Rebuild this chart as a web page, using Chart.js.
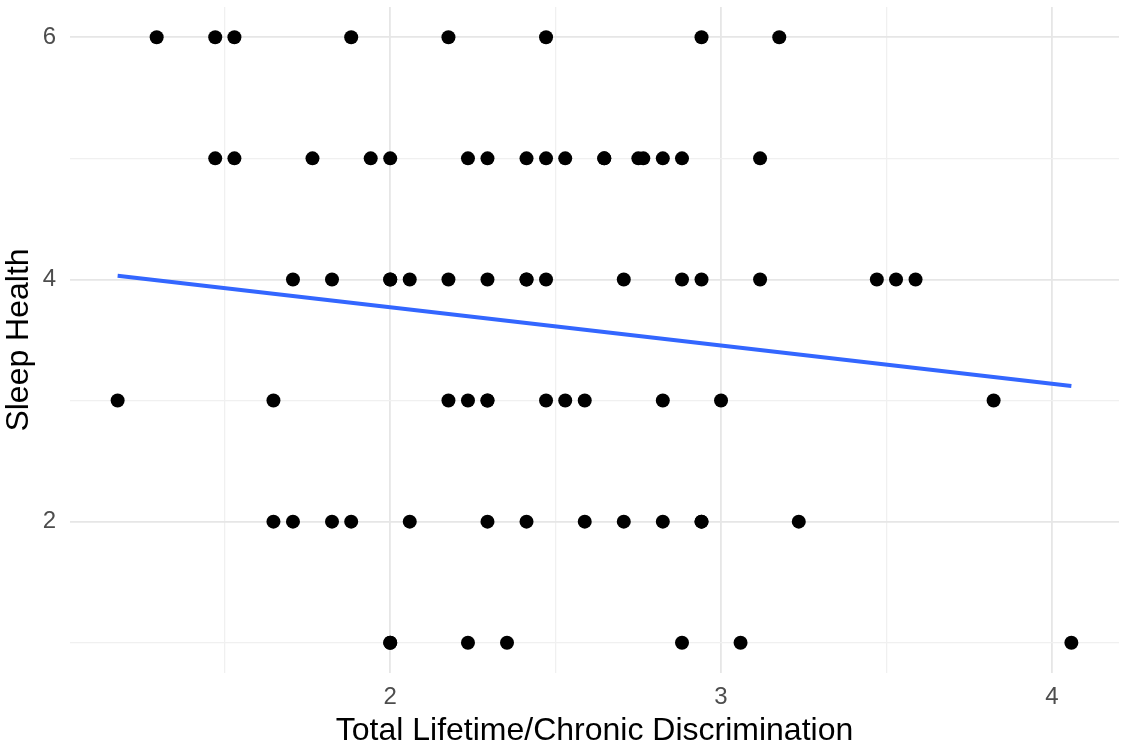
<!DOCTYPE html>
<html lang="en">
<head>
<meta charset="UTF-8">
<title>Sleep Health vs Discrimination</title>
<script src="https://cdn.jsdelivr.net/npm/chart.js"></script>
<style>
    html, body { margin: 0; padding: 0; background: #ffffff; }
    .chart-wrapper { position: relative; width: 1126px; height: 750px; }
</style>
</head>
<body>
<div class="chart-wrapper">
    <canvas id="scatterChart"></canvas>
</div>
<script>
    // Total Lifetime/Chronic Discrimination score, grouped by Sleep Health level
    const sleep6 = [1.294, 1.471, 1.529, 1.882, 2.176, 2.471, 2.941, 3.176];
    const sleep5 = [1.471, 1.529, 1.765, 1.941, 2.0, 2.235, 2.294, 2.412, 2.471, 2.529, 2.647, 2.647, 2.75, 2.765, 2.824, 2.882, 3.118];
    const sleep4 = [1.706, 1.824, 2.0, 2.0, 2.059, 2.176, 2.294, 2.412, 2.412, 2.471, 2.706, 2.882, 2.941, 3.118, 3.471, 3.529, 3.588];
    const sleep3 = [1.176, 1.647, 2.176, 2.235, 2.294, 2.294, 2.471, 2.529, 2.588, 2.824, 3.0, 3.824];
    const sleep2 = [1.647, 1.706, 1.824, 1.882, 2.059, 2.294, 2.412, 2.588, 2.706, 2.824, 2.941, 2.941, 3.235];
    const sleep1 = [2.0, 2.0, 2.235, 2.353, 2.882, 3.059, 4.059];

    // fitted linear trend (endpoints)
    const fitX = [1.176, 4.059];
    const fitY = [4.03, 3.12];

    // axis breaks
    const xTicks = [1.5, 2, 2.5, 3, 3.5, 4];
    const xLabels = [2, 3, 4];
    const yTicks = [1, 2, 3, 4, 5, 6];
    const yLabels = [2, 4, 6];

    const groups = [[6, sleep6], [5, sleep5], [4, sleep4], [3, sleep3], [2, sleep2], [1, sleep1]];
    const points = [];
    groups.forEach(([level, xs]) => xs.forEach(x => points.push({ x: x, y: level })));
    const fitLine = fitX.map((x, i) => ({ x: x, y: fitY[i] }));

    const font = '"Liberation Sans", Arial, sans-serif';
    const gridColor = (labels) => (ctx) => labels.includes(ctx.tick && ctx.tick.value) ? '#e6e6e6' : '#f0f0f0';
    const gridWidth = (labels) => (ctx) => labels.includes(ctx.tick && ctx.tick.value) ? 1.8 : 1.3;

    new Chart(document.getElementById('scatterChart'), {
        type: 'scatter',
        data: {
            datasets: [
                {
                    label: 'Trend',
                    type: 'line',
                    data: fitLine,
                    borderColor: '#3366ff',
                    borderWidth: 4,
                    pointRadius: 0,
                    fill: false,
                    tension: 0,
                    order: 0
                },
                {
                    label: 'Respondents',
                    data: points,
                    backgroundColor: '#000000',
                    borderColor: '#000000',
                    borderWidth: 0,
                    pointRadius: 7,
                    order: 1
                }
            ]
        },
        options: {
            responsive: true,
            maintainAspectRatio: false,
            animation: false,
            layout: { padding: { top: 4, right: 3, left: 0, bottom: 0 } },
            plugins: {
                legend: { display: false },
                tooltip: { enabled: false }
            },
            scales: {
                x: {
                    type: 'linear',
                    min: 1.032,
                    max: 4.203,
                    afterBuildTicks: (scale) => { scale.ticks = xTicks.map(v => ({ value: v })); },
                    afterFit: (scale) => {
                        scale.height = 77;
                        scale.paddingLeft = 0;
                        scale.paddingRight = 0;
                    },
                    border: { display: false },
                    grid: { drawTicks: false, color: gridColor(xLabels), lineWidth: gridWidth(xLabels) },
                    ticks: {
                        padding: 10,
                        autoSkip: false,
                        maxRotation: 0,
                        color: '#4d4d4d',
                        font: { family: font, size: 24 },
                        callback: (v) => xLabels.includes(v) ? String(v) : ''
                    },
                    title: {
                        display: true,
                        text: 'Total Lifetime/Chronic Discrimination',
                        color: '#000000',
                        padding: 0,
                        font: { family: font, size: 32 }
                    }
                },
                y: {
                    type: 'linear',
                    min: 0.75,
                    max: 6.25,
                    afterBuildTicks: (scale) => { scale.ticks = yTicks.map(v => ({ value: v })); },
                    afterFit: (scale) => {
                        scale.width = 70;
                        scale.paddingTop = 0;
                        scale.paddingBottom = 0;
                    },
                    border: { display: false },
                    grid: { drawTicks: false, color: gridColor(yLabels), lineWidth: gridWidth(yLabels) },
                    ticks: {
                        padding: 14,
                        autoSkip: false,
                        color: '#4d4d4d',
                        font: { family: font, size: 24 },
                        callback: (v) => yLabels.includes(v) ? String(v) : ''
                    },
                    title: {
                        display: true,
                        text: 'Sleep Health',
                        color: '#000000',
                        padding: 0,
                        font: { family: font, size: 32 }
                    }
                }
            }
        }
    });
</script>
</body>
</html>
